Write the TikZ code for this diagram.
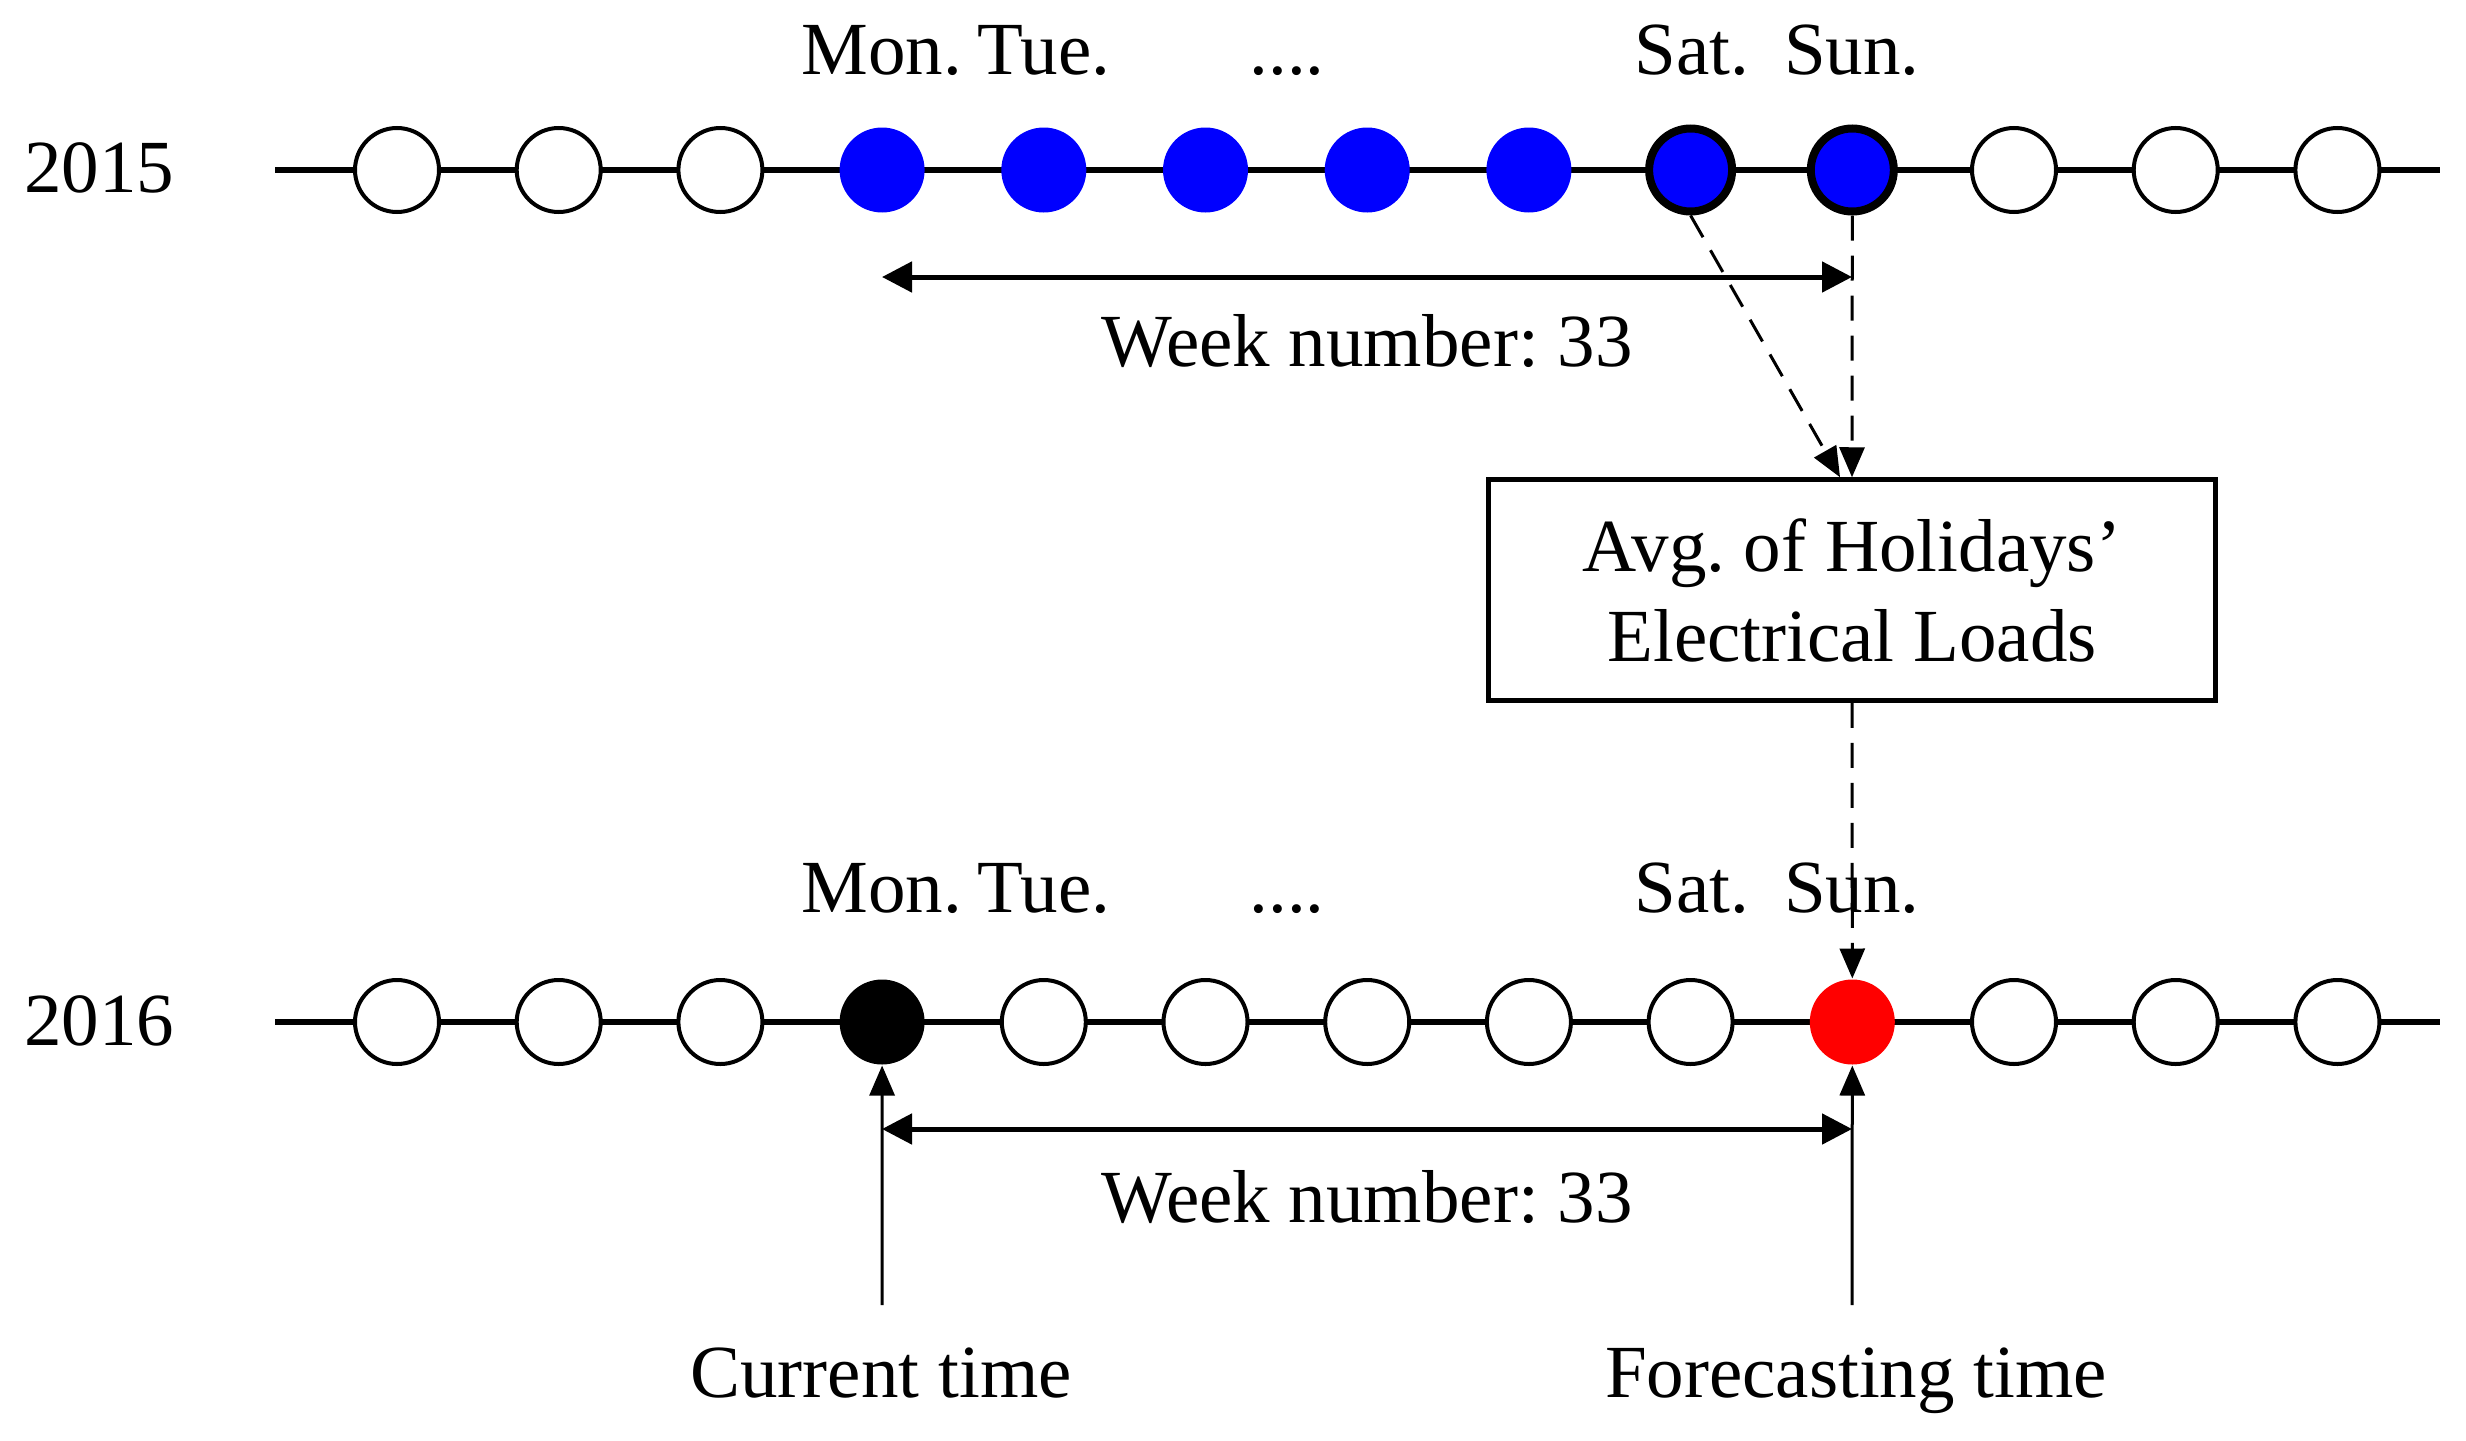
\documentclass[tikz,border=0pt]{standalone}
\usepackage{fontspec}
\setmainfont{Liberation Serif}
\usetikzlibrary{arrows.meta}
\definecolor{dayblue}{RGB}{0,0,255}
\definecolor{dayred}{RGB}{255,0,0}
\begin{document}
\frenchspacing
\begin{tikzpicture}[x=0.2pt,y=-0.2pt,
  font=\fontsize{15}{18}\selectfont,
  tline/.style={line width=1.1pt},
  day/.style={circle, draw=black, line width=0.8pt, fill=white, minimum size=16.8pt, inner sep=0pt},
  blueday/.style={circle, fill=dayblue, minimum size=17pt, inner sep=0pt},
  holiday/.style={circle, draw=black, line width=1.6pt, fill=dayblue, minimum size=16.6pt, inner sep=0pt},
  curday/.style={circle, fill=black, minimum size=17pt, inner sep=0pt},
  foreday/.style={circle, fill=dayred, minimum size=17pt, inner sep=0pt},
  span/.style={line width=1pt, {Triangle[length=6pt,width=6pt]}-{Triangle[length=6pt,width=6pt]}},
  dasharrow/.style={line width=0.6pt, dash pattern=on 5pt off 3pt, -{Triangle[length=6pt,width=5pt]}},
  uparrow/.style={line width=0.6pt, -{Triangle[length=6pt,width=5pt]}},
  lbl/.style={inner sep=1pt, anchor=base},
  boxnode/.style={draw, line width=0.9pt, minimum width=145.4pt, minimum height=44.2pt, align=center, inner sep=0pt}
]
\useasboundingbox (0,0) rectangle (2466,1440);

% timelines
\coordinate (s15) at (275,170);
\coordinate (e15) at (2440,170);
\coordinate (s16) at (275,1022);
\coordinate (e16) at (2440,1022);
\draw[tline] (s15) -- (e15);
\draw[tline] (s16) -- (e16);

% year labels
\node[lbl] (y15) at (99,192) {2015};
\node[lbl] (y16) at (99,1045) {2016};

% 2015 days
\foreach \i/\s in {0/day,1/day,2/day,3/blueday,4/blueday,5/blueday,6/blueday,7/blueday,8/holiday,9/holiday,10/day,11/day,12/day}
  \node[\s] (p\i) at ({397+161.7*\i},170) {};

% 2016 days
\foreach \i/\s in {0/day,1/day,2/day,3/curday,4/day,5/day,6/day,7/day,8/day,9/foreday,10/day,11/day,12/day}
  \node[\s] (q\i) at ({397+161.7*\i},1022) {};

% day names
\node[lbl] (mon15) at (882,74) {Mon.};
\node[lbl] (tue15) at (1044,74) {Tue.};
\node[lbl] (dot15) at (1287,74) {....};
\node[lbl] (sat15) at (1692,74) {Sat.};
\node[lbl] (sun15) at (1852,74) {Sun.};
\node[lbl] (mon16) at (882,912) {Mon.};
\node[lbl] (tue16) at (1044,912) {Tue.};
\node[lbl] (dot16) at (1287,912) {....};
\node[lbl] (sat16) at (1692,912) {Sat.};
\node[lbl] (sun16) at (1852,912) {Sun.};

% week span 2015
\coordinate (w15a) at (882,277);
\coordinate (w15b) at (1852,277);
\draw[span] (w15a) -- (w15b);
\node[lbl] (wk15) at (1367,366) {Week number: 33};

% average box
\node[boxnode] (avg) at (1852,590) {Avg. of Holidays'\\Electrical Loads};
\draw[dasharrow] (p8.south) -- ([xshift=-2.4pt]avg.north);
\draw[dasharrow] (p9.south) -- (avg.north);
\draw[dasharrow] (avg.south) -- (q9.north);

% week span 2016
\coordinate (w16a) at (882,1129);
\coordinate (w16b) at (1852,1129);
\draw[span] (w16a) -- (w16b);
\node[lbl] (wk16) at (1367,1222) {Week number: 33};

% current / forecasting time
\coordinate (ctb) at (882,1305);
\coordinate (ftb) at (1852,1305);
\draw[uparrow] (ctb) -- (q3.south);
\draw[uparrow] (ftb) -- (q9.south);
\node[lbl] (ct) at (881,1397) {Current time};
\node[lbl] (ft) at (1856,1397) {Forecasting time};
\end{tikzpicture}
\end{document}
